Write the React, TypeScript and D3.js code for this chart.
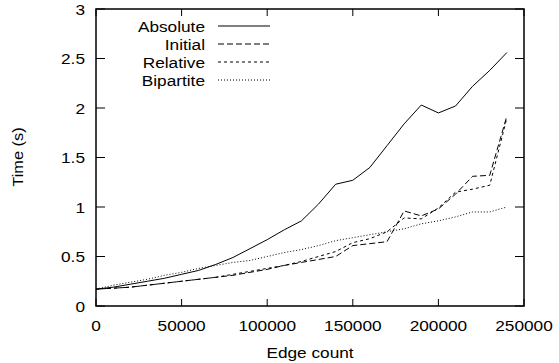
import React from "react";
import * as d3 from "d3";

const edges = [0, 10000, 20000, 30000, 40000, 50000, 60000, 70000, 80000, 90000, 100000, 110000, 120000, 130000, 140000, 150000, 160000, 170000, 180000, 190000, 200000, 210000, 220000, 230000, 240000];
const absoluteT = [0.17, 0.19, 0.22, 0.25, 0.28, 0.32, 0.36, 0.42, 0.49, 0.58, 0.67, 0.77, 0.86, 1.03, 1.23, 1.27, 1.40, 1.62, 1.84, 2.03, 1.95, 2.02, 2.22, 2.38, 2.56];
const initialT = [0.17, 0.18, 0.19, 0.21, 0.23, 0.25, 0.27, 0.29, 0.31, 0.34, 0.37, 0.41, 0.44, 0.47, 0.50, 0.61, 0.63, 0.65, 0.96, 0.91, 0.98, 1.13, 1.31, 1.32, 1.92];
const relativeT = [0.17, 0.18, 0.19, 0.21, 0.23, 0.25, 0.27, 0.29, 0.32, 0.35, 0.38, 0.41, 0.45, 0.50, 0.55, 0.64, 0.68, 0.75, 0.89, 0.88, 0.99, 1.15, 1.18, 1.22, 1.90];
const bipartiteT = [0.17, 0.21, 0.24, 0.27, 0.31, 0.34, 0.38, 0.41, 0.44, 0.46, 0.50, 0.54, 0.57, 0.61, 0.66, 0.69, 0.72, 0.75, 0.78, 0.83, 0.86, 0.90, 0.95, 0.95, 1.00];

const seriesNames = ["Absolute", "Initial", "Relative", "Bipartite"];
const seriesData = [absoluteT, initialT, relativeT, bipartiteT];
const dashes = ["none", "6,3", "3,3", "1,2"];

const xTicks = [0, 50000, 100000, 150000, 200000, 250000];
const yTicks = [0, 0.5, 1, 1.5, 2, 2.5, 3];

const W = 559, H = 363;
const L = 96, R = 524, T = 9, B = 306;
const FONT = "'Liberation Sans', Arial, Helvetica, sans-serif";
const FS = 15;
const SX = 1.15;

function Txt({ x, y, anchor, children, rotate }: any) {
  const tr = rotate
    ? `translate(${x},${y}) rotate(-90) scale(${SX * 0.95},1)`
    : `translate(${x},${y}) scale(${SX},1)`;
  return (
    <text transform={tr} textAnchor={anchor} fontFamily={FONT} fontSize={FS} fill="#000">
      {children}
    </text>
  );
}

export default function App() {
  const x = d3.scaleLinear().domain([0, 250000]).range([L, R]);
  const y = d3.scaleLinear().domain([0, 3]).range([B, T]);
  const line = d3
    .line<[number, number]>()
    .x((d) => x(d[0]))
    .y((d) => y(d[1]));

  return (
    <svg width={W} height={H} style={{ position: "absolute", left: 0, top: 0, background: "#fff" }}>
      <rect x={0} y={0} width={W} height={H} fill="#fff" />
      {/* ticks */}
      {xTicks.map((t) => (
        <g key={"xt" + t}>
          <line x1={x(t)} x2={x(t)} y1={B} y2={B - 7} stroke="#000" strokeWidth={1} />
          <line x1={x(t)} x2={x(t)} y1={T} y2={T + 7} stroke="#000" strokeWidth={1} />
          <Txt x={x(t)} y={331} anchor="middle">{String(t)}</Txt>
        </g>
      ))}
      {yTicks.map((t) => (
        <g key={"yt" + t}>
          <line x1={L} x2={L + 9} y1={y(t)} y2={y(t)} stroke="#000" strokeWidth={1} />
          <line x1={R} x2={R - 9} y1={y(t)} y2={y(t)} stroke="#000" strokeWidth={1} />
          <Txt x={85} y={y(t) + 5.5} anchor="end">{String(t)}</Txt>
        </g>
      ))}
      <rect x={L} y={T} width={R - L} height={B - T} fill="none" stroke="#000" strokeWidth={1.5} />
      {/* series */}
      {seriesData.map((vals, i) => (
        <path
          key={seriesNames[i]}
          d={line(edges.map((e, j) => [e, vals[j]] as [number, number])) || ""}
          fill="none"
          stroke="#000"
          strokeWidth={1}
          strokeDasharray={dashes[i]}
        />
      ))}
      {/* legend */}
      {seriesNames.map((n, i) => (
        <g key={"lg" + n}>
          <Txt x={205} y={26 + i * 18 + 5.5} anchor="end">{n}</Txt>
          <line x1={218} x2={270} y1={26 + i * 18} y2={26 + i * 18} stroke="#000" strokeWidth={1} strokeDasharray={dashes[i]} />
        </g>
      ))}
      {/* axis titles */}
      <Txt x={310} y={358} anchor="middle">Edge count</Txt>
      <Txt x={23} y={157} anchor="middle" rotate>Time (s)</Txt>
    </svg>
  );
}
